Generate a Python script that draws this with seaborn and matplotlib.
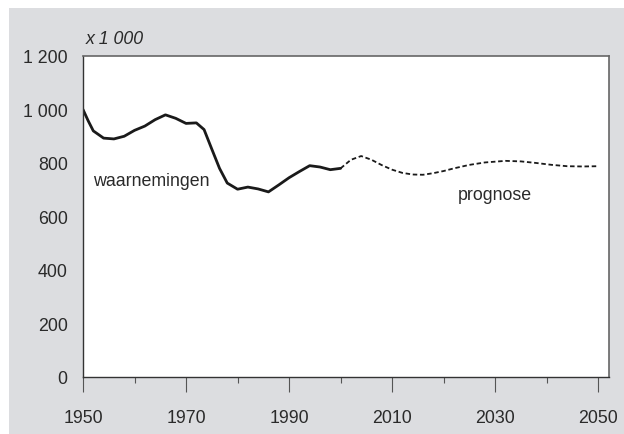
import pandas as pd
import matplotlib
matplotlib.use("Agg")
import matplotlib.pyplot as plt
import matplotlib.ticker as mticker
from matplotlib.patches import Rectangle
import seaborn as sns

# Observed population (x 1 000)
obs_years = [1950, 1951, 1952, 1954, 1956, 1958, 1960, 1962, 1964, 1966, 1968, 1970,
             1972, 1973.5, 1975, 1976.5, 1978, 1980, 1982, 1984, 1986, 1988,
             1990, 1992, 1994, 1996, 1998, 2000]
obs_values = [1000, 958, 920, 893, 890, 900, 922, 938, 962, 980, 967, 948,
              950, 925, 852, 780, 725, 702, 710, 703, 692, 718,
              745, 768, 790, 785, 775, 780]

# Forecast
prog_years = [2000, 2002, 2004, 2006, 2008, 2010, 2012, 2014, 2016, 2018, 2020,
              2022, 2025, 2028, 2032, 2035, 2038, 2041, 2044, 2047, 2050]
prog_values = [780, 812, 826, 812, 792, 775, 763, 757, 756, 762, 770,
               780, 793, 802, 808, 806, 800, 793, 788, 787, 788]

y_ticks = [0, 200, 400, 600, 800, 1000, 1200]
x_ticks = [1950, 1970, 1990, 2010, 2030, 2050]

obs = pd.DataFrame({"jaar": obs_years, "waarde": obs_values})
prog = pd.DataFrame({"jaar": prog_years, "waarde": prog_values})

sns.set_style("white")
plt.rcParams['font.family'] = ['Liberation Sans', 'DejaVu Sans']
text_col = "#2a2a2a"

fig = plt.figure(figsize=(6.24, 4.35), dpi=100)
fig.patch.set_facecolor("white")
fig.patches.append(Rectangle((9 / 624, 0), 1, 1 - 9 / 435, transform=fig.transFigure,
                             facecolor="#dcdde0", edgecolor="none", zorder=-10))

ax = fig.add_axes([83 / 624, 1 - 378 / 435, (609 - 83) / 624, (378 - 57) / 435])
ax.set_facecolor("white")

sns.lineplot(data=obs, x="jaar", y="waarde", ax=ax, color="#1a1a1a", linewidth=2.0)
sns.lineplot(data=prog, x="jaar", y="waarde", ax=ax, color="#1a1a1a", linewidth=1.3,
             linestyle=(0, (2.5, 1.5)))

ax.set_xlim(1950, 2052.1)
ax.set_ylim(0, 1200)
ax.set_xticks(x_ticks)
ax.set_xticks([1960, 1980, 2000, 2020, 2040], minor=True)
ax.set_yticks(y_ticks)
ax.yaxis.set_major_formatter(mticker.FuncFormatter(lambda v, p: f"{int(v):,}".replace(",", " ")))
ax.tick_params(axis="x", which="major", length=11, width=0.8, color="#555555",
               labelsize=12.8, labelcolor=text_col, pad=12, direction="out", bottom=True)
ax.tick_params(axis="x", which="minor", length=4.5, width=0.8, color="#555555",
               direction="out", bottom=True)
ax.tick_params(axis="y", length=0, labelsize=12.8, labelcolor=text_col, pad=11)
ax.set_xlabel("")
ax.set_ylabel("")

for side in ["left", "bottom"]:
    ax.spines[side].set_color("#333333")
    ax.spines[side].set_linewidth(1.0)
for side in ["top", "right"]:
    ax.spines[side].set_color("#666666")
    ax.spines[side].set_linewidth(1.2)

ax.text(1952, 735, "waarnemingen", fontsize=12.8, color=text_col, va="center", ha="left")
ax.text(2030, 682, "prognose", fontsize=12.8, color=text_col, va="center", ha="center")
ax.text(0.005, 1.053, "x 1 000", transform=ax.transAxes, fontsize=12.8, style="italic",
        color=text_col, va="center", ha="left")

fig.savefig("out.png", dpi=100)
